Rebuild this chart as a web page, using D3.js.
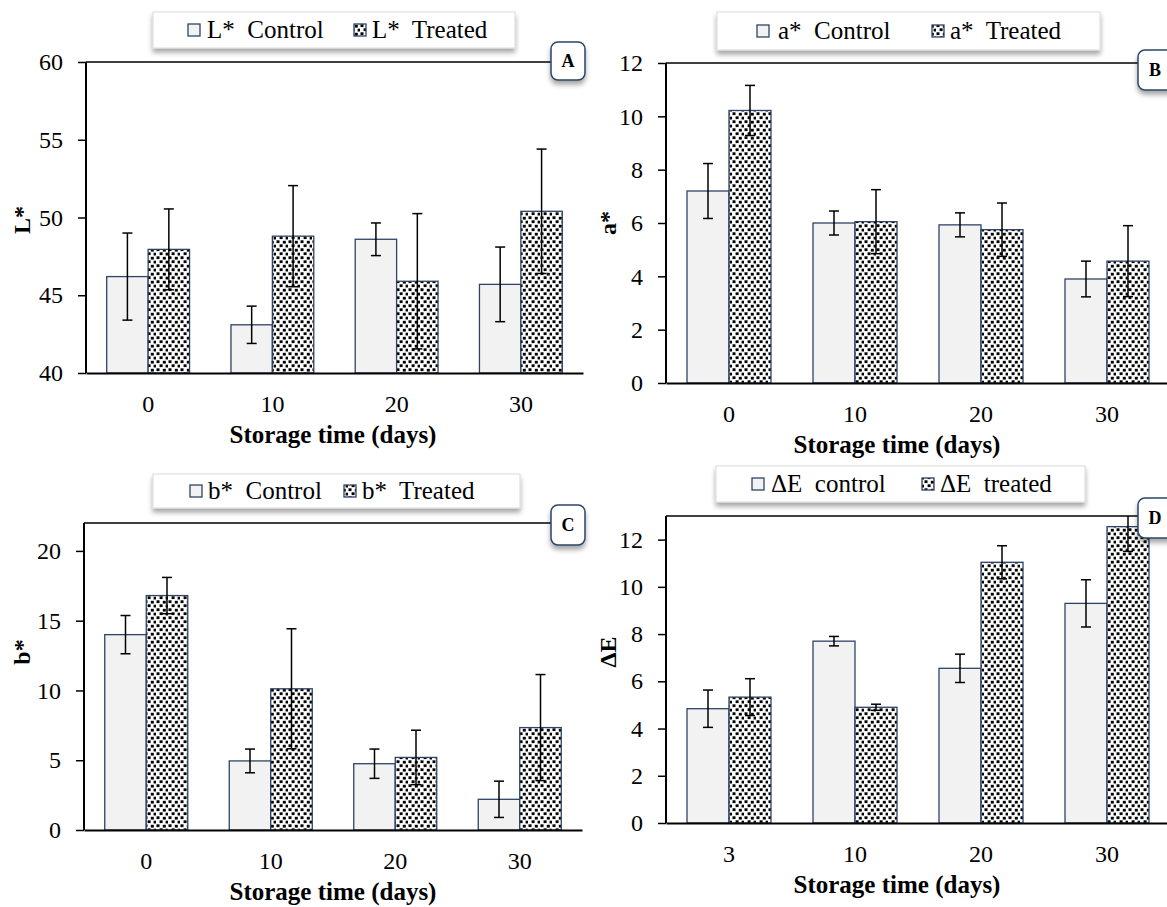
<!DOCTYPE html>
<html>
<head>
<meta charset="utf-8">
<script src="https://cdn.jsdelivr.net/npm/d3@7"></script>
<style>
  body { margin: 0; background: #fff; }
  svg { display: block; font-family: "Liberation Serif", serif; }
</style>
</head>
<body>
<svg id="chart" width="1167" height="907"></svg>
<script>
// categories
const days = ["0", "10", "20", "30"];
const daysDE = ["3", "10", "20", "30"];

// L*
const lControl = [46.2, 43.1, 48.6, 45.7];
const lControlErr = [2.8, 1.2, 1.05, 2.4];
const lTreated = [47.95, 48.8, 45.9, 50.4];
const lTreatedErr = [2.6, 3.25, 4.35, 4.0];
const lTicks = [40, 45, 50, 55, 60];

// a*
const aControl = [7.2, 6.0, 5.93, 3.9];
const aControlErr = [1.03, 0.45, 0.45, 0.67];
const aTreated = [10.22, 6.05, 5.75, 4.57];
const aTreatedErr = [0.94, 1.2, 1.0, 1.33];
const aTicks = [0, 2, 4, 6, 8, 10, 12];

// b*
const bControl = [14.0, 4.95, 4.75, 2.2];
const bControlErr = [1.37, 0.85, 1.05, 1.3];
const bTreated = [16.8, 10.12, 5.2, 7.34];
const bTreatedErr = [1.3, 4.3, 1.95, 3.8];
const bTicks = [0, 5, 10, 15, 20];

// delta E
const eControl = [4.84, 7.7, 6.55, 9.3];
const eControlErr = [0.79, 0.2, 0.6, 1.0];
const eTreated = [5.33, 4.9, 11.04, 12.55];
const eTreatedErr = [0.78, 0.13, 0.7, 1.05];
const eTicks = [0, 2, 4, 6, 8, 10, 12];

const panels = [
  { id: "A", cats: days, c: lControl, ce: lControlErr, t: lTreated, te: lTreatedErr, ticks: lTicks, domain: [40, 60],
    yTitle: "L*", leg: ["L*  Control", "L*  Treated"],
    left: 86, right: 583, top: 62, bottom: 373, titleX: 333, yTitleX: 22, yTitleY: 220,
    legBox: [153, 12, 362, 36], legSq: [188, 354], legTx: [207, 372],
    lab: [551, 42, 34, 38] },
  { id: "B", cats: days, c: aControl, ce: aControlErr, t: aTreated, te: aTreatedErr, ticks: aTicks, domain: [0, 12],
    yTitle: "a*", leg: ["a*  Control", "a*  Treated"],
    left: 666, right: 1170, top: 63, bottom: 383, titleX: 897, yTitleX: 608, yTitleY: 223,
    legBox: [717, 12, 383, 38], legSq: [757, 932], legTx: [778, 950],
    lab: [1138, 50, 40, 40] },
  { id: "C", cats: days, c: bControl, ce: bControlErr, t: bTreated, te: bTreatedErr, ticks: bTicks, domain: [0, 22],
    yTitle: "b*", leg: ["b*  Control", "b*  Treated"],
    left: 84, right: 582, top: 523, bottom: 830, titleX: 333, yTitleX: 22, yTitleY: 652,
    legBox: [153, 474, 367, 34], legSq: [190, 344], legTx: [208, 362],
    lab: [551, 505, 34, 40] },
  { id: "D", cats: daysDE, c: eControl, ce: eControlErr, t: eTreated, te: eTreatedErr, ticks: eTicks, domain: [0, 13],
    yTitle: "ΔE", leg: ["ΔE  control", "ΔE  treated"],
    left: 666, right: 1170, top: 516, bottom: 823, titleX: 897, yTitleX: 608, yTitleY: 652,
    legBox: [716, 466, 369, 36], legSq: [752, 922], legTx: [771, 940],
    lab: [1138, 498, 40, 40] }
];

const navy = "#2d4466";
const svg = d3.select("#chart");
const defs = svg.append("defs");

// confetti-like dotted pattern of the treated bars
const pat = defs.append("pattern").attr("id", "dots").attr("patternUnits", "userSpaceOnUse")
  .attr("width", 12).attr("height", 8);
pat.append("rect").attr("width", 12).attr("height", 8).attr("fill", "#fff");
[[0.5, 0.3], [6.8, 0.8], [3.6, 4.3], [9.6, 4.7]].forEach(p => {
  pat.append("rect").attr("x", p[0]).attr("y", p[1]).attr("width", 3).attr("height", 2.8).attr("fill", "#000");
});

const sh = defs.append("filter").attr("id", "shadow").attr("x", "-20%").attr("y", "-30%").attr("width", "140%").attr("height", "180%");
sh.append("feDropShadow").attr("dx", 0).attr("dy", 4).attr("stdDeviation", 2.5)
  .attr("flood-color", "#000").attr("flood-opacity", 0.35);

panels.forEach(p => {
  const g = svg.append("g");
  const x = d3.scaleBand().domain(p.cats).range([p.left, p.right]);
  const sub = d3.scaleBand().domain(["c", "t"]).range([0, x.bandwidth()]).paddingOuter(0.5);
  const y = d3.scaleLinear().domain(p.domain).range([p.bottom, p.top]);

  defs.append("clipPath").attr("id", "clip" + p.id)
    .append("rect").attr("x", p.left).attr("y", p.top).attr("width", p.right - p.left).attr("height", p.bottom - p.top);

  // top border
  g.append("line").attr("x1", p.left).attr("x2", p.lab[0]).attr("y1", p.top).attr("y2", p.top)
    .attr("stroke", "#000").attr("stroke-width", 1.5);

  const rows = p.cats.map((k, i) => ({ k, c: p.c[i], ce: p.ce[i], t: p.t[i], te: p.te[i] }));
  const bars = [];
  rows.forEach(r => {
    bars.push({ k: r.k, s: "c", v: r.c, e: r.ce });
    bars.push({ k: r.k, s: "t", v: r.t, e: r.te });
  });

  g.selectAll(".bar").data(bars).join("rect").attr("class", "bar")
    .attr("x", d => x(d.k) + sub(d.s))
    .attr("width", sub.bandwidth())
    .attr("y", d => y(d.v))
    .attr("height", d => p.bottom - y(d.v))
    .attr("fill", d => d.s === "c" ? "#f2f2f2" : "url(#dots)")
    .attr("stroke", navy).attr("stroke-width", 1.3);

  // error bars
  const eg = g.append("g").attr("clip-path", `url(#clip${p.id})`);
  const cx = d => x(d.k) + sub(d.s) + sub.bandwidth() / 2;
  eg.selectAll(".ev").data(bars).join("line").attr("class", "ev")
    .attr("x1", cx).attr("x2", cx)
    .attr("y1", d => y(d.v - d.e)).attr("y2", d => y(d.v + d.e))
    .attr("stroke", "#000").attr("stroke-width", 1.5);
  const caps = [];
  bars.forEach(d => { caps.push({ d, v: d.v + d.e }); caps.push({ d, v: d.v - d.e }); });
  eg.selectAll(".cap").data(caps.filter(c => c.v <= p.domain[1])).join("line").attr("class", "cap")
    .attr("x1", c => cx(c.d) - 5).attr("x2", c => cx(c.d) + 5)
    .attr("y1", c => y(c.v)).attr("y2", c => y(c.v))
    .attr("stroke", "#000").attr("stroke-width", 1.5);

  // axes
  const ya = g.append("g").attr("transform", `translate(${p.left},0)`)
    .call(d3.axisLeft(y).tickValues(p.ticks).tickSize(8).tickSizeOuter(0).tickPadding(15));
  ya.select(".domain").attr("stroke-width", 2).attr("d", `M0,${p.top}V${p.bottom}`);
  ya.selectAll(".tick line").attr("stroke-width", 1.5);
  ya.selectAll("text").attr("font-size", 24).attr("font-family", "Liberation Serif").attr("fill", "#000");

  const xa = g.append("g").attr("transform", `translate(0,${p.bottom})`)
    .call(d3.axisBottom(x).tickSize(0).tickPadding(22));
  xa.select(".domain").attr("stroke-width", 2);
  xa.selectAll("text").attr("font-size", 24).attr("font-family", "Liberation Serif").attr("fill", "#000");

  g.append("text").attr("x", p.titleX).attr("y", p.bottom + 70)
    .attr("text-anchor", "middle").attr("font-weight", "bold").attr("font-size", 25)
    .text("Storage time (days)");

  g.append("text").attr("transform", `translate(${p.yTitleX},${p.yTitleY}) rotate(-90)`)
    .attr("text-anchor", "middle").attr("dominant-baseline", "central")
    .attr("font-weight", "bold").attr("font-size", 24).text(p.yTitle);

  // legend
  const lb = p.legBox;
  const lg = g.append("g");
  lg.append("rect").attr("x", lb[0]).attr("y", lb[1]).attr("width", lb[2]).attr("height", lb[3])
    .attr("fill", "#fff").attr("stroke", "#d9d9d9").attr("filter", "url(#shadow)");
  const midY = lb[1] + lb[3] / 2;
  ["c", "t"].forEach((s, i) => {
    lg.append("rect").attr("x", p.legSq[i]).attr("y", midY - 6).attr("width", 12).attr("height", 12)
      .attr("fill", s === "c" ? "#f2f2f2" : "url(#dots)").attr("stroke", navy).attr("stroke-width", 1.3);
    lg.append("text").attr("x", p.legTx[i]).attr("y", midY + 8).attr("font-size", 25)
      .style("white-space", "pre").text(p.leg[i]);
  });

  // panel label
  const lab = p.lab;
  g.append("rect").attr("x", lab[0]).attr("y", lab[1]).attr("width", lab[2]).attr("height", lab[3])
    .attr("rx", 7).attr("fill", "#fff").attr("stroke", navy).attr("stroke-width", 1.5)
    .attr("filter", "url(#shadow)");
  g.append("text").attr("x", lab[0] + 17).attr("y", lab[1] + lab[3] / 2)
    .attr("text-anchor", "middle").attr("dominant-baseline", "central")
    .attr("font-weight", "bold").attr("font-size", 18).text(p.id);
});
</script>
</body>
</html>
